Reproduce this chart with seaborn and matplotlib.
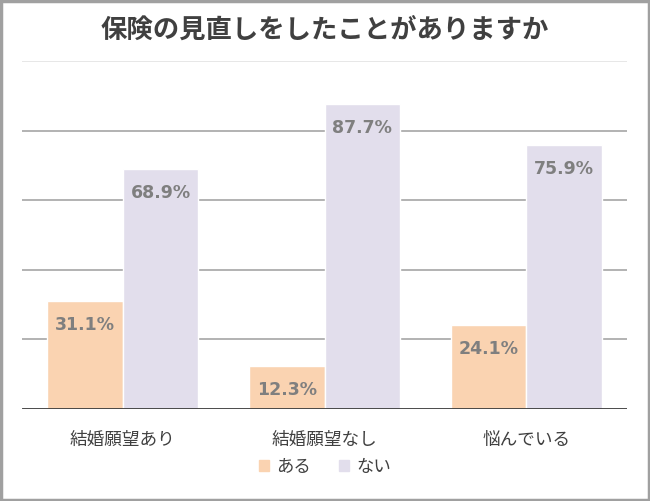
import pandas as pd
import seaborn as sns
import matplotlib.pyplot as plt
from matplotlib.patches import Patch, Rectangle

# data
categories = ['結婚願望あり', '結婚願望なし', '悩んでいる']
aru = [31.1, 12.3, 24.1]
nai = [68.9, 87.7, 75.9]
series_names = ['ある', 'ない']
colors = ['#FAD3B1', '#E2DEEC']

df = pd.DataFrame({
    'group': categories * 2,
    'answer': [series_names[0]] * 3 + [series_names[1]] * 3,
    'value': aru + nai,
})

sns.set_style('white')
plt.rcParams['font.family'] = ['Noto Sans CJK JP', 'DejaVu Sans']

fig = plt.figure(figsize=(6.5, 5.01), dpi=100)
ax = fig.add_axes([22 / 650, 1 - 409 / 501, 605 / 650, 348 / 501])

sns.barplot(data=df, x='group', y='value', hue='answer', order=categories,
            hue_order=series_names, palette=colors, width=0.75,
            saturation=1, ax=ax, legend=False, zorder=2)

ax.set_xlim(-0.5, 2.5)
ax.set_ylim(0, 100)
for y in [20, 40, 60, 80]:
    ax.axhline(y, color='#A6A6A6', lw=1.2, zorder=1)
ax.axhline(100, color='#E3E3E3', lw=1.2, zorder=1)
ax.axhline(0, color='#3A3A3A', lw=2, zorder=3)

for container in ax.containers:
    for bar in container:
        h = bar.get_height()
        ax.text(bar.get_x() + bar.get_width() / 2, h - 4.3, f'{h:.1f}%',
                ha='center', va='top', fontsize=12.5, fontweight='bold',
                color='#7F7F7F', family='DejaVu Sans', zorder=4)

for s in ax.spines.values():
    s.set_visible(False)
ax.set_yticks([])
ax.set_xlabel('')
ax.set_ylabel('')
ax.tick_params(axis='x', length=0, pad=16, labelsize=12.7, labelcolor='#404040')

fig.text(0.5, 1 - 30 / 501, '保険の見直しをしたことがありますか', ha='center',
         va='center', fontsize=19, fontweight='bold', color='#404040')

handles = [Patch(color=c) for c in colors]
fig.legend(handles, series_names, loc='center', bbox_to_anchor=(0.5, 1 - 467 / 501),
           ncol=2, frameon=False, fontsize=12.5, handlelength=0.6, handleheight=0.6,
           handletextpad=0.4, columnspacing=1.6, labelcolor='#404040')

fig.patches.append(Rectangle((0.002, 0.002), 0.996, 0.996, transform=fig.transFigure,
                             fill=False, edgecolor='#A0A0A0', lw=2.5))

fig.savefig('out.png', dpi=100)
